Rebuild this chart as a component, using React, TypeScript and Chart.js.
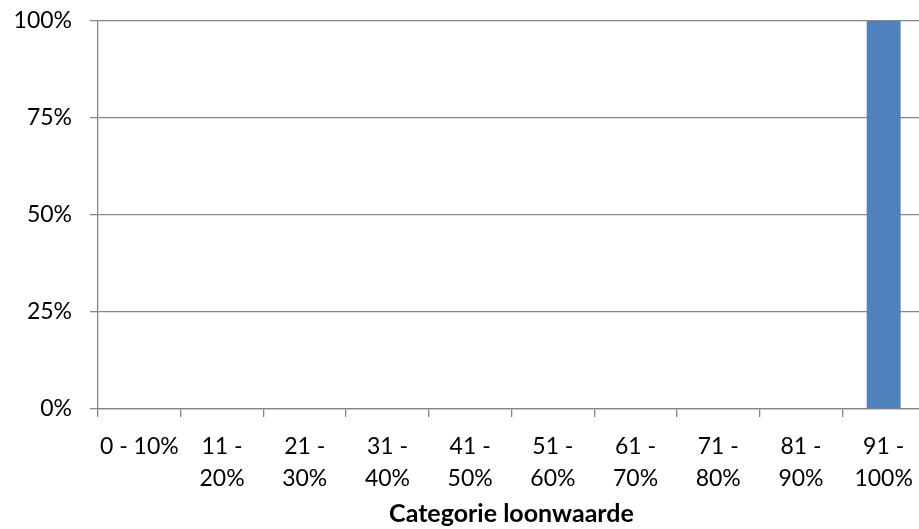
import React, { useEffect, useRef } from "react";
import { Chart, registerables } from "chart.js";

Chart.register(...registerables);

const categories: (string | string[])[] = [
  "0 - 10%",
  ["11 -", "20%"],
  ["21 -", "30%"],
  ["31 -", "40%"],
  ["41 -", "50%"],
  ["51 -", "60%"],
  ["61 -", "70%"],
  ["71 -", "80%"],
  ["81 -", "90%"],
  ["91 -", "100%"],
];
const shares: number[] = [0, 0, 0, 0, 0, 0, 0, 0, 0, 1];
const yTicks: number[] = [0, 0.25, 0.5, 0.75, 1];
const xTitle = "Categorie loonwaarde";

const FONT = "Lato, 'Open Sans', sans-serif";
const GRID = "#868686";

export default function App() {
  const ref = useRef<HTMLCanvasElement | null>(null);

  useEffect(() => {
    document.body.style.margin = "0";
    document.body.style.overflow = "hidden";
    const canvas = ref.current;
    if (!canvas) return;
    const chart = new Chart(canvas, {
      type: "bar",
      data: {
        labels: categories,
        datasets: [
          {
            data: shares,
            backgroundColor: "#4f81bd",
            borderWidth: 0,
            categoryPercentage: 1,
            barPercentage: 0.41,
          },
        ],
      },
      options: {
        animation: false,
        responsive: false,
        maintainAspectRatio: false,
        layout: { padding: { top: 21, right: 0, left: 0, bottom: 0 } },
        plugins: { legend: { display: false }, tooltip: { enabled: false } },
        scales: {
          x: {
            offset: true,
            grid: {
              display: true,
              offset: true,
              drawOnChartArea: false,
              drawTicks: true,
              tickLength: 8,
              color: GRID,
              lineWidth: 1.3,
            },
            border: { display: true, color: GRID, width: 1.3 },
            ticks: {
              color: "#000",
              padding: 13,
              maxRotation: 0,
              minRotation: 0,
              autoSkip: false,
              font: { family: FONT, size: 23, lineHeight: 1.4 },
            },
            title: {
              display: true,
              text: xTitle,
              color: "#000",
              font: { family: FONT, size: 25, weight: "bold" },
              padding: { top: 6, bottom: 0 },
            },
            afterFit: (s: any) => {
              s.height = 120;
              s.paddingTop = 0;
              s.paddingBottom = 0;
              s.paddingLeft = 0;
              s.paddingRight = 0;
            },
          },
          y: {
            min: 0,
            max: 1,
            afterBuildTicks: (s: any) => {
              s.ticks = yTicks.map((v) => ({ value: v }));
            },
            grid: {
              color: GRID,
              lineWidth: 1.3,
              drawTicks: true,
              tickLength: 8,
            },
            border: { display: true, color: GRID, width: 1.3 },
            ticks: {
              color: "#000",
              padding: 18,
              font: { family: FONT, size: 23 },
              callback: (v: any) => Math.round(Number(v) * 100) + "%",
            },
            afterFit: (s: any) => {
              s.width = 98;
              s.paddingTop = 0;
              s.paddingBottom = 0;
            },
          },
        },
      },
    });
    return () => chart.destroy();
  }, []);

  return (
    <div style={{ width: 925, height: 529 }}>
      <canvas ref={ref} width={925} height={529} style={{ display: "block" }} />
    </div>
  );
}
